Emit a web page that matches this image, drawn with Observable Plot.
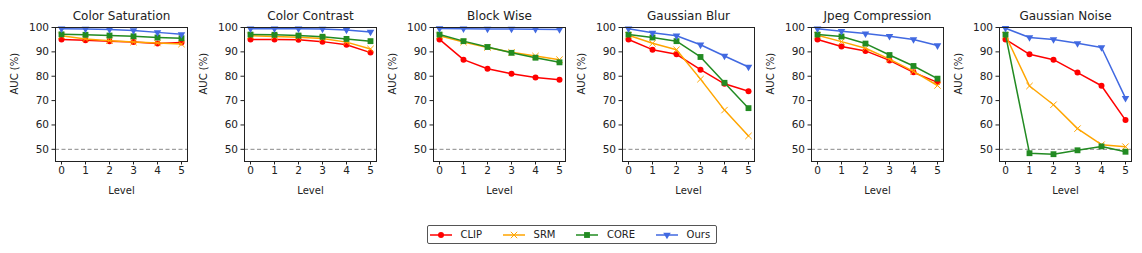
<!DOCTYPE html>
<html><head><meta charset="utf-8">
<script src="https://cdn.jsdelivr.net/npm/d3@7"></script>
<script src="https://cdn.jsdelivr.net/npm/@observablehq/plot@0.6"></script>
<style>
body{margin:0;background:#fff;}
#chart{position:relative;width:1142px;height:253px;font-family:"DejaVu Sans",sans-serif;color:#222;overflow:hidden;}
.panel{position:absolute;top:0;}
#legend{position:absolute;left:427px;top:225px;width:290px;height:19px;border:1px solid #555;border-radius:2px;display:flex;align-items:center;font-size:10px;box-sizing:border-box;padding-left:2px;}
#legend .item{display:flex;align-items:center;margin-right:21px;}
#legend .item:last-child{margin-right:0;}
#legend svg{margin-right:8.5px;}
</style></head><body><div id="chart"></div>
<script>
const levels = [0, 1, 2, 3, 4, 5];
const perturbations = ["Color Saturation", "Color Contrast", "Block Wise", "Gaussian Blur", "Jpeg Compression", "Gaussian Noise"];
const methods = ["CLIP", "SRM", "CORE", "Ours"];
const methodColors = ["#ff0000", "#ffa500", "#228b22", "#4169e1"];
const methodSymbols = ["circle", "times", "square", "triangle"];
const yTicks = [50, 60, 70, 80, 90, 100];

// AUC (%) per perturbation (rows) and level (columns)
const clipAUC = [
  [95.1, 94.8, 94.4, 94.0, 93.4, 93.8],
  [95.1, 95.1, 95.0, 94.2, 92.9, 89.7],
  [95.1, 86.8, 83.1, 81.0, 79.5, 78.6],
  [95.1, 90.9, 89.0, 82.7, 76.9, 73.8],
  [95.1, 92.2, 90.4, 86.5, 81.6, 77.5],
  [95.1, 89.0, 86.8, 81.5, 76.1, 62.0]
];
const srmAUC = [
  [96.6, 95.3, 94.6, 94.0, 93.6, 93.2],
  [96.6, 96.3, 96.0, 95.5, 94.0, 91.2],
  [96.6, 94.0, 91.8, 89.8, 88.3, 86.8],
  [96.8, 93.5, 90.9, 78.8, 66.1, 55.5],
  [96.8, 94.2, 91.5, 87.0, 82.0, 76.2],
  [96.8, 76.0, 68.3, 58.5, 51.9, 51.1]
];
const coreAUC = [
  [97.2, 97.0, 96.7, 96.4, 95.9, 95.6],
  [97.1, 97.0, 96.7, 96.2, 95.3, 94.4],
  [97.1, 94.4, 92.0, 89.6, 87.6, 85.7],
  [97.1, 95.9, 94.4, 87.9, 77.3, 66.9],
  [97.1, 96.3, 93.4, 88.7, 84.2, 79.0],
  [97.1, 48.4, 48.0, 49.6, 51.2, 49.0]
];
const oursAUC = [
  [99.5, 99.4, 99.2, 98.8, 98.0, 97.2],
  [99.5, 99.5, 99.5, 99.4, 99.0, 98.2],
  [99.6, 99.5, 99.4, 99.4, 99.3, 99.2],
  [99.5, 97.8, 96.6, 92.9, 88.3, 83.8],
  [99.5, 98.5, 97.5, 96.4, 95.1, 92.6],
  [99.7, 95.9, 95.1, 93.5, 91.8, 71.0]
];
const seriesValues = [clipAUC, srmAUC, coreAUC, oursAUC];

const symbolR = {circle: 3, times: 3, square: 3.3, triangle: 2.8};

const chart = document.getElementById("chart");
const panelLefts = [0, 189, 378, 567, 756, 944];

perturbations.forEach((pert, pi) => {
  const marks = [
    Plot.ruleY([50], {stroke: "#8a8a8a", strokeWidth: 1, strokeDasharray: "4,2.5"})
  ];
  methods.forEach((m, mi) => {
    const rows = levels.map((lv, li) => ({level: lv, auc: seriesValues[mi][pi][li], method: m}));
    const sym = methodSymbols[mi];
    marks.push(Plot.line(rows, {x: "level", y: "auc", stroke: "method", strokeWidth: 1.5}));
    if (sym === "times") {
      marks.push(Plot.dot(rows, {x: "level", y: "auc", stroke: "method", symbol: "method", r: symbolR[sym], strokeWidth: 1}));
    } else {
      marks.push(Plot.dot(rows, {x: "level", y: "auc", fill: "method", symbol: "method", r: symbolR[sym], rotate: m === "Ours" ? 180 : 0}));
    }
  });
  marks.push(Plot.frame({stroke: "#222", strokeWidth: 1}));
  marks.push(Plot.axisX({ticks: levels, tickSize: 3.5, tickPadding: 2, tickFormat: d => String(d), label: null}));
  marks.push(Plot.axisY({ticks: yTicks, tickSize: 3.5, tickPadding: 3, label: null}));
  marks.push(Plot.text([pert], {frameAnchor: "top", dy: -11.5, lineAnchor: "middle", fontSize: 12, fill: "#222"}));
  marks.push(Plot.text(["Level"], {frameAnchor: "bottom", dy: 29, lineAnchor: "middle", fontSize: 10, fill: "#222"}));
  marks.push(Plot.text(["AUC (%)"], {frameAnchor: "left", dx: -41, rotate: -90, lineAnchor: "middle", fontSize: 10, fill: "#222"}));

  const svg = Plot.plot({
    width: 189,
    height: 203,
    marginLeft: 55,
    marginRight: 2,
    marginTop: 27,
    marginBottom: 42,
    style: {fontFamily: "DejaVu Sans", fontSize: "10.5px", color: "#222", background: "transparent", overflow: "visible"},
    x: {domain: [-0.25, 5.25]},
    y: {domain: [45, 100]},
    color: {domain: methods, range: methodColors},
    symbol: {domain: methods, range: methodSymbols},
    marks
  });
  const wrap = document.createElement("div");
  wrap.className = "panel";
  wrap.style.left = panelLefts[pi] + "px";
  wrap.appendChild(svg);
  chart.appendChild(wrap);
});

// legend
const legend = document.createElement("div");
legend.id = "legend";
methods.forEach((m, mi) => {
  const item = document.createElement("div");
  item.className = "item";
  const s = d3.create("svg").attr("width", 22).attr("height", 10);
  s.append("line").attr("x1", 0).attr("x2", 22).attr("y1", 5).attr("y2", 5)
    .attr("stroke", methodColors[mi]).attr("stroke-width", 1.5);
  const sym = methodSymbols[mi];
  const symType = {circle: d3.symbolCircle, times: d3.symbolTimes, square: d3.symbolSquare, triangle: d3.symbolTriangle}[sym];
  const size = Math.PI * symbolR[sym] * symbolR[sym];
  const p = s.append("path").attr("d", d3.symbol(symType, size)())
    .attr("transform", `translate(11,5)${m === "Ours" ? " rotate(180)" : ""}`);
  if (sym === "times") p.attr("fill", "none").attr("stroke", methodColors[mi]).attr("stroke-width", 1);
  else p.attr("fill", methodColors[mi]);
  item.appendChild(s.node());
  const t = document.createElement("span");
  t.textContent = m;
  item.appendChild(t);
  legend.appendChild(item);
});
chart.appendChild(legend);
</script>
</body></html>
